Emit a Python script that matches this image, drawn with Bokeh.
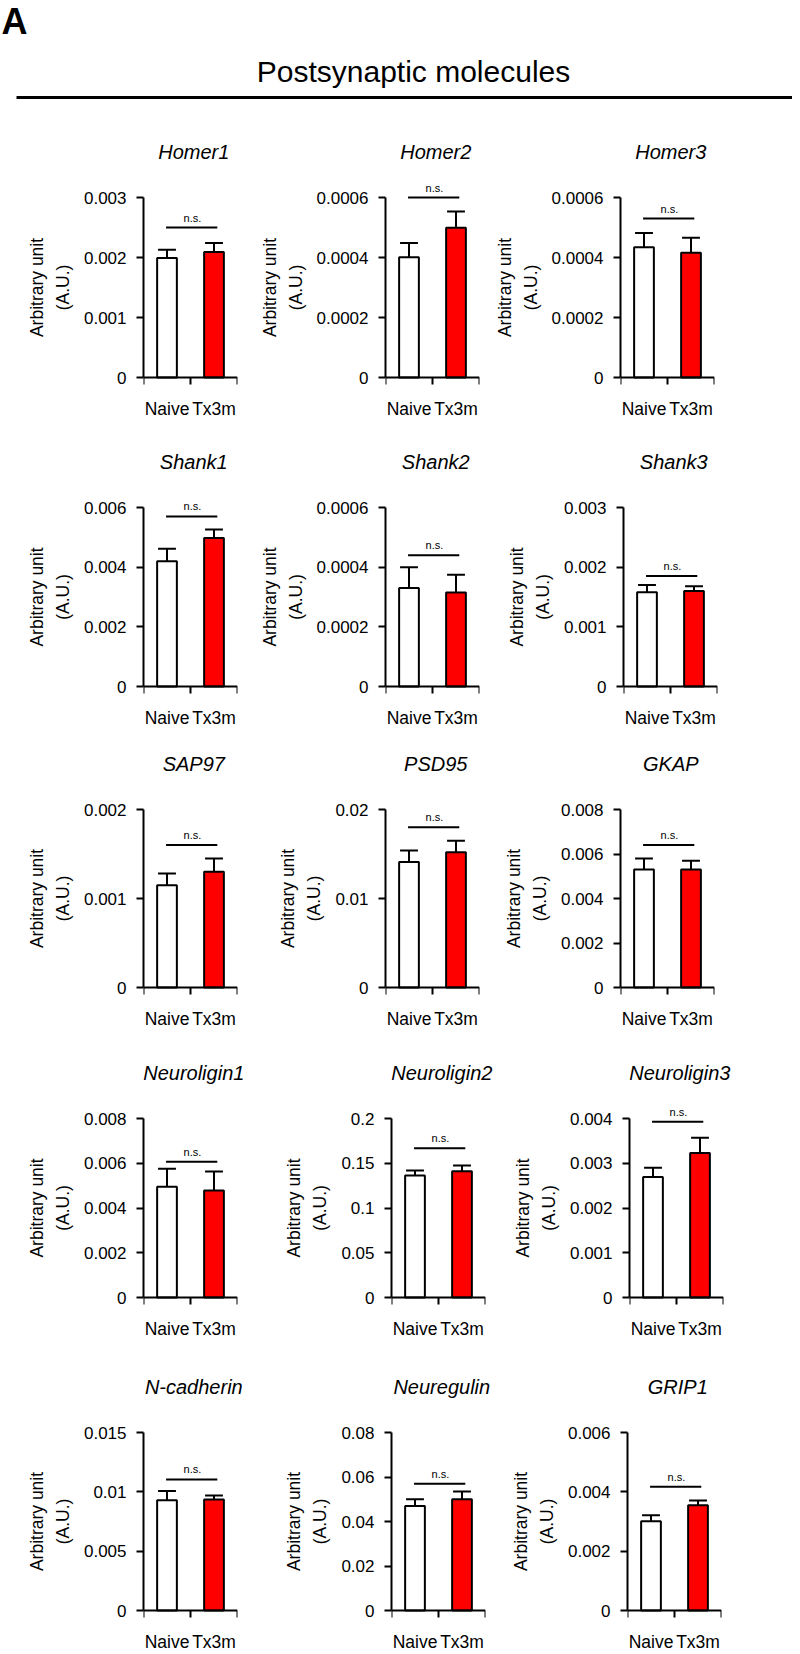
from bokeh.plotting import figure
from bokeh.models import Range1d, FixedTicker, Label, ColumnDataSource, LinearAxis
from bokeh.layouts import column, row
from bokeh.embed import file_html
from bokeh.resources import INLINE
from bokeh.core.properties import value

# ---------------- data ----------------
genes = ["Homer1", "Homer2", "Homer3",
         "Shank1", "Shank2", "Shank3",
         "SAP97", "PSD95", "GKAP",
         "Neuroligin1", "Neuroligin2", "Neuroligin3",
         "N-cadherin", "Neuregulin", "GRIP1"]
groups = ["Naive", "Tx3m"]
naive_mean = [0.00199, 0.000401, 0.000434,
              0.0042, 0.00033, 0.00158,
              0.00115, 0.0141, 0.0053,
              0.00495, 0.1362, 0.00269,
              0.0093, 0.047, 0.00301]
naive_sem = [0.00014, 0.000047, 0.000048,
             0.00042, 0.00007, 0.00012,
             0.00013, 0.0013, 0.0005,
             0.0008, 0.0056, 0.00021,
             0.00076, 0.003, 0.0002]
tx_mean = [0.00209, 0.000499, 0.000416,
           0.00498, 0.000315, 0.0016,
           0.0013, 0.0152, 0.0053,
           0.00478, 0.141, 0.00323,
           0.00935, 0.050, 0.00355]
tx_sem = [0.00015, 0.000054, 0.00005,
          0.00028, 0.00006, 0.00008,
          0.00015, 0.0013, 0.0004,
          0.00085, 0.0064, 0.00034,
          0.00035, 0.0035, 0.00016]
sig_y = [0.0025, 0.0006, 0.00053,
         0.0057, 0.00044, 0.00185,
         0.0016, 0.018, 0.0064,
         0.00607, 0.1668, 0.00393,
         0.01104, 0.057, 0.00417]
y_ticks = [[0, 0.001, 0.002, 0.003], [0, 0.0002, 0.0004, 0.0006], [0, 0.0002, 0.0004, 0.0006],
           [0, 0.002, 0.004, 0.006], [0, 0.0002, 0.0004, 0.0006], [0, 0.001, 0.002, 0.003],
           [0, 0.001, 0.002], [0, 0.01, 0.02], [0, 0.002, 0.004, 0.006, 0.008],
           [0, 0.002, 0.004, 0.006, 0.008], [0, 0.05, 0.1, 0.15, 0.2], [0, 0.001, 0.002, 0.003, 0.004],
           [0, 0.005, 0.01, 0.015], [0, 0.02, 0.04, 0.06, 0.08], [0, 0.002, 0.004, 0.006]]
y_tick_labels = [["0", "0.001", "0.002", "0.003"], ["0", "0.0002", "0.0004", "0.0006"], ["0", "0.0002", "0.0004", "0.0006"],
                 ["0", "0.002", "0.004", "0.006"], ["0", "0.0002", "0.0004", "0.0006"], ["0", "0.001", "0.002", "0.003"],
                 ["0", "0.001", "0.002"], ["0", "0.01", "0.02"], ["0", "0.002", "0.004", "0.006", "0.008"],
                 ["0", "0.002", "0.004", "0.006", "0.008"], ["0", "0.05", "0.1", "0.15", "0.2"], ["0", "0.001", "0.002", "0.003", "0.004"],
                 ["0", "0.005", "0.01", "0.015"], ["0", "0.02", "0.04", "0.06", "0.08"], ["0", "0.002", "0.004", "0.006"]]
sig_text = "n.s."
y_label = "Arbitrary unit\n(A.U.)"
header_letter = "A"
header_title = "Postsynaptic molecules"

# ---------------- layout (page pixels) ----------------
FONT = "Liberation Sans"
TOTAL_W = 792
col_x = [0, 248, 488]
col_w = [248, 240, 304]
frame_left = [143, 385, 620, 143, 385, 623, 143, 385, 620, 143, 391, 629, 143, 391, 627]
row_top_tick = [197, 507, 809, 1118, 1432]
row_bottom = [377, 686, 987, 1297, 1610]
row_fig_end = [424, 733, 1034, 1344, 1654]
HEADER_H = 120
PAD = 21
FW = 94


def panel(i):
    r, c = divmod(i, 3)
    A = row_bottom[r] - row_top_tick[r]
    T = y_ticks[i][-1]
    fig_top = row_top_tick[r] - PAD
    H = row_fig_end[r] - fig_top
    L = frame_left[i] - col_x[c]
    R = col_w[c] - L - FW
    bb = row_fig_end[r] - (row_bottom[r] + PAD)
    p = figure(width=col_w[c], height=H, min_border_left=L, min_border_right=R,
               min_border_top=0, min_border_bottom=bb,
               x_range=Range1d(0, 2), y_range=Range1d(-T * PAD / A, T * (A + PAD) / A),
               output_backend="svg", toolbar_location=None, title=None)
    p.outline_line_color = None
    p.xgrid.visible = False
    p.ygrid.visible = False
    p.background_fill_color = "white"
    p.border_fill_color = "white"

    xs = [0.5, 1.5]
    means = [naive_mean[i], tx_mean[i]]
    errs = [naive_mean[i] + naive_sem[i], tx_mean[i] + tx_sem[i]]
    src = ColumnDataSource(dict(x=xs, top=means, err=errs,
                                cl=[x - 0.19 for x in xs], cr=[x + 0.19 for x in xs],
                                color=["white", "#ff0000"], g=groups))
    p.segment(x0="x", y0="top", x1="x", y1="err", source=src, line_color="black", line_width=2)
    p.vbar(x="x", top="top", width=0.42, bottom=0, source=src, fill_color="color",
           line_color="black", line_width=2)
    p.segment(x0="cl", y0="err", x1="cr", y1="err", source=src, line_color="black", line_width=2)

    p.segment(x0=[0.48], y0=[sig_y[i]], x1=[1.57], y1=[sig_y[i]], line_color="black", line_width=2)
    p.add_layout(Label(x=1.04, y=sig_y[i], y_offset=4, text=sig_text, text_font=FONT,
                       text_font_size="11px", text_align="center", text_baseline="bottom",
                       text_color="black"))

    # category labels axis (below the frame, no line / ticks)
    xa = p.xaxis[0]
    xa.ticker = FixedTicker(ticks=xs, minor_ticks=[])
    xa.major_label_overrides = {xs[0]: groups[0], xs[1]: groups[1]}
    xa.axis_line_color = None
    xa.major_tick_line_color = None
    xa.minor_tick_line_color = None
    xa.major_tick_out = 0
    xa.major_tick_in = 0
    xa.minor_tick_out = 0
    xa.minor_tick_in = 0
    xa.major_label_text_font = FONT
    xa.major_label_text_font_size = "17.5px"
    xa.major_label_text_color = "black"
    xa.major_label_standoff = 0

    # axis line with separator ticks at y = 0
    base = LinearAxis(fixed_location=0, ticker=FixedTicker(ticks=[], minor_ticks=[0, 1, 2]),
                      axis_line_width=2, axis_line_color="black",
                      major_tick_line_color=None, major_tick_out=0, major_tick_in=0,
                      minor_tick_out=7, minor_tick_in=0, minor_tick_line_width=2,
                      minor_tick_line_color="black", major_label_text_font_size="0px")
    p.add_layout(base, "below")

    ya = p.yaxis[0]
    ya.ticker = FixedTicker(ticks=y_ticks[i], minor_ticks=[])
    ya.major_label_overrides = dict(zip(y_ticks[i], y_tick_labels[i]))
    ya.bounds = (0, T)
    ya.major_tick_out = 7
    ya.major_tick_in = 0
    ya.major_tick_line_width = 2
    ya.major_tick_line_color = "black"
    ya.minor_tick_line_color = None
    ya.axis_line_width = 2
    ya.axis_line_color = "black"
    ya.major_label_text_font = FONT
    ya.major_label_text_font_size = "17px"
    ya.major_label_text_color = "black"
    ya.major_label_standoff = 10
    ya.axis_label = y_label
    ya.axis_label_text_font = FONT
    ya.axis_label_text_font_size = "17.5px"
    ya.axis_label_text_font_style = "normal"
    ya.axis_label_text_color = "black"
    ya.axis_label_text_line_height = 1.3
    ya.axis_label_standoff = 8
    return p


def title_strip(r, top):
    h = (row_top_tick[r] - PAD) - top
    s = figure(width=TOTAL_W, height=h, x_range=Range1d(0, TOTAL_W), y_range=Range1d(0, h),
               min_border=0, output_backend="svg", toolbar_location=None, title=None)
    s.axis.visible = False
    s.grid.visible = False
    s.outline_line_color = None
    idx = [r * 3 + c for c in range(3)]
    s.text(x=[frame_left[i] + 1.07 * FW / 2 for i in idx], y=[46 - PAD] * 3,
           text=[genes[i] for i in idx], text_font=value(FONT), text_font_size="20px",
           text_font_style="italic", text_align="center", text_baseline="middle",
           text_color="black")
    return s


# header
hdr = figure(width=TOTAL_W, height=HEADER_H, x_range=Range1d(0, TOTAL_W), y_range=Range1d(0, HEADER_H),
             min_border=0, output_backend="svg", toolbar_location=None, title=None)
hdr.axis.visible = False
hdr.grid.visible = False
hdr.outline_line_color = None
hdr.text(x=[1], y=[HEADER_H], text=[header_letter], text_font=value(FONT), text_font_size="36px",
         text_font_style="bold", text_baseline="top", text_align="left", text_color="black")
hdr.text(x=[413], y=[HEADER_H - 71], text=[header_title], text_font=value(FONT), text_font_size="30px",
         text_baseline="middle", text_align="center", text_color="black")
hdr.segment(x0=[16], y0=[HEADER_H - 97], x1=[TOTAL_W], y1=[HEADER_H - 97], line_color="black", line_width=3)

panels = [panel(i) for i in range(len(genes))]
items = [hdr]
top = HEADER_H
for k in range(5):
    items.append(title_strip(k, top))
    items.append(row(*panels[k * 3:(k + 1) * 3]))
    top = row_fig_end[k]
layout = column(*items)

open("out.html", "w").write(file_html(layout, INLINE))
